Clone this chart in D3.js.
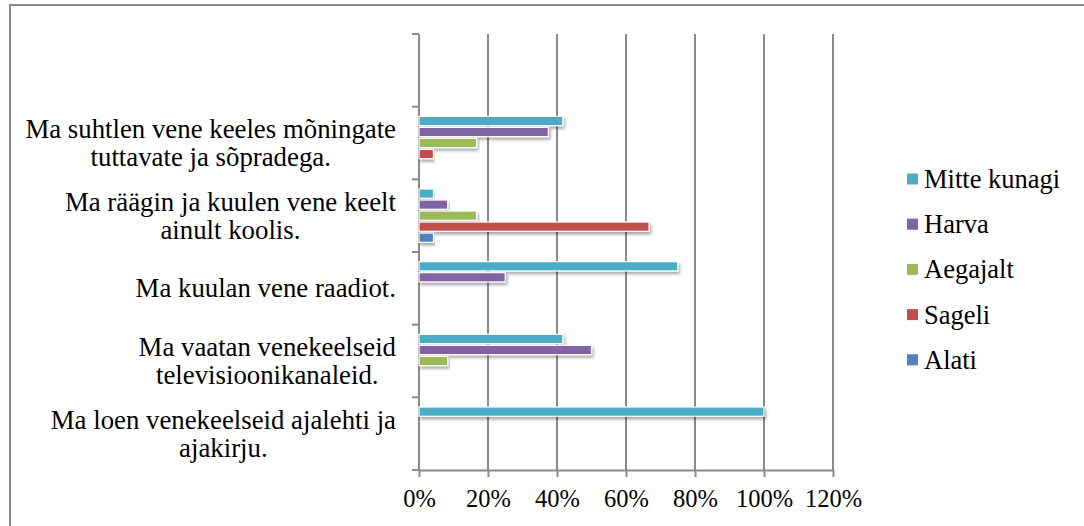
<!DOCTYPE html>
<html>
<head>
<meta charset="utf-8">
<script src="https://cdn.jsdelivr.net/npm/d3@7"></script>
<style>
  body { margin: 0; background: #fff; }
  text { font-family: "Liberation Serif", "Times New Roman", serif; fill: #000; }
</style>
</head>
<body>
<script>
// categories top to bottom (top slot is empty in the original chart)
const categories = [
	"",
	"Ma suhtlen vene keeles mõningate\ntuttavate ja sõpradega.",
	"Ma räägin ja kuulen vene keelt\nainult koolis.",
	"Ma kuulan vene raadiot.",
	"Ma vaatan venekeelseid\ntelevisioonikanaleid.",
	"Ma loen venekeelseid ajalehti ja\najakirju."
]
// series top to bottom inside a group (legend order too)
const seriesNames = ["Mitte kunagi", "Harva", "Aegajalt", "Sageli", "Alati"]
const seriesColors = ["#4BACC6", "#8064A2", "#9BBB59", "#C0504D", "#4F81BD"]

// values per series, same order as categories
const mitteKunagi = [0, 0.417, 0.042, 0.75, 0.417, 1.0]
const harva       = [0, 0.375, 0.083, 0.25, 0.5, 0]
const aegajalt    = [0, 0.167, 0.167, 0, 0.083, 0]
const sageli      = [0, 0.042, 0.667, 0, 0, 0]
const alati       = [0, 0, 0.042, 0, 0, 0]
const seriesValues = [mitteKunagi, harva, aegajalt, sageli, alati]

const xTicks = [0, 0.2, 0.4, 0.6, 0.8, 1.0, 1.2]

const W = 1084, H = 526
const FONT = '"Liberation Serif", "Times New Roman", serif'
const svg = d3.select('body').append('svg').attr('width', W).attr('height', H)

//drop shadow for bars
const defs = svg.append('defs')
defs.append('filter').attr('id', 'shadow')
	.attr('x', '-5%').attr('y', '-50%').attr('width', '110%').attr('height', '250%')
	.append('feDropShadow')
	.attr('dx', 1.5).attr('dy', 2.5).attr('stdDeviation', 1.5)
	.attr('flood-color', '#000').attr('flood-opacity', 0.35)

//outer frame (only top and left visible in the picture)
svg.append('path')
	.attr('d', 'M10,' + (H + 2) + 'V5H' + (W + 2))
	.attr('fill', 'none').attr('stroke', '#8a8a8a').attr('stroke-width', 2)

const x = d3.scaleLinear().domain([0, 1.2]).range([419, 833])
const y = d3.scaleBand().domain(d3.range(categories.length)).range([34, 470])
const yInner = d3.scaleBand().domain(d3.range(seriesNames.length))
	.range([0, y.bandwidth()]).paddingInner(0.16).paddingOuter(0.88)

const gridColor = '#8a8a8a'

//vertical grid lines
svg.append('g').selectAll('line').data(xTicks.slice(1)).join('line')
	.attr('x1', d => x(d)).attr('x2', d => x(d))
	.attr('y1', y.range()[0]).attr('y2', y.range()[1])
	.attr('stroke', gridColor).attr('stroke-width', 2)

//bottom axis
const xAxis = svg.append('g')
	.attr('transform', 'translate(0,' + y.range()[1] + ')')
	.call(d3.axisBottom(x).tickValues(xTicks).tickFormat(d3.format('.0%')).tickSizeInner(7).tickSizeOuter(0).tickPadding(13))
xAxis.attr('font-family', null)
xAxis.select('.domain').attr('stroke', gridColor).attr('stroke-width', 2)
xAxis.selectAll('.tick line').attr('stroke', gridColor).attr('stroke-width', 2)
xAxis.selectAll('.tick text').style('font-size', '24.5px').style('font-family', FONT).attr('fill', '#000')

//left axis line and ticks at band edges
const leftX = x(0)
svg.append('line')
	.attr('x1', leftX).attr('x2', leftX)
	.attr('y1', y.range()[0]).attr('y2', y.range()[1])
	.attr('stroke', gridColor).attr('stroke-width', 2)
const edges = categories.map((c, i) => y(i)).concat([y.range()[1]])
svg.append('g').selectAll('line').data(edges).join('line')
	.attr('x1', leftX - 7).attr('x2', leftX)
	.attr('y1', d => d).attr('y2', d => d)
	.attr('stroke', gridColor).attr('stroke-width', 2)

//bars
const rows = []
categories.forEach((c, ci) => {
	seriesValues.forEach((vals, si) => {
		if (vals[ci] > 0) rows.push({ ci, si, v: vals[ci] })
	})
})
svg.append('g').selectAll('rect').data(rows).join('rect')
	.attr('x', x(0))
	.attr('y', d => y(d.ci) + yInner(d.si))
	.attr('width', d => x(d.v) - x(0))
	.attr('height', yInner.bandwidth())
	.attr('fill', d => seriesColors[d.si])
	.attr('stroke', '#fff').attr('stroke-width', 1.2)
	.attr('filter', 'url(#shadow)')

//category labels: lines centered, block right aligned
const labelRight = 396
const lineH = 28
categories.forEach((c, ci) => {
	if (!c) return
	const lines = c.split('\n')
	const g = svg.append('g')
	const texts = g.selectAll('text').data(lines).join('text')
		.attr('text-anchor', 'middle')
		.attr('dominant-baseline', 'central')
		.style('font-family', FONT)
		.style('font-size', '26.8px')
		.attr('y', (d, i) => (i - (lines.length - 1) / 2) * lineH)
		.text(d => d)
	let maxW = 0
	texts.each(function() { maxW = Math.max(maxW, this.getComputedTextLength()) })
	g.attr('transform', 'translate(' + (labelRight - maxW / 2) + ',' + (y(ci) + y.bandwidth() / 2) + ')')
})

//legend
const legend = svg.append('g').attr('transform', 'translate(907,179)')
const item = legend.selectAll('g').data(seriesNames).join('g')
	.attr('transform', (d, i) => 'translate(0,' + i * 45.2 + ')')
item.append('rect')
	.attr('x', 0).attr('y', -5.5).attr('width', 11).attr('height', 11)
	.attr('fill', (d, i) => seriesColors[i])
item.append('text')
	.attr('x', 17).attr('dominant-baseline', 'central')
	.style('font-family', FONT)
	.style('font-size', '26.5px')
	.text(d => d)
</script>
</body>
</html>
